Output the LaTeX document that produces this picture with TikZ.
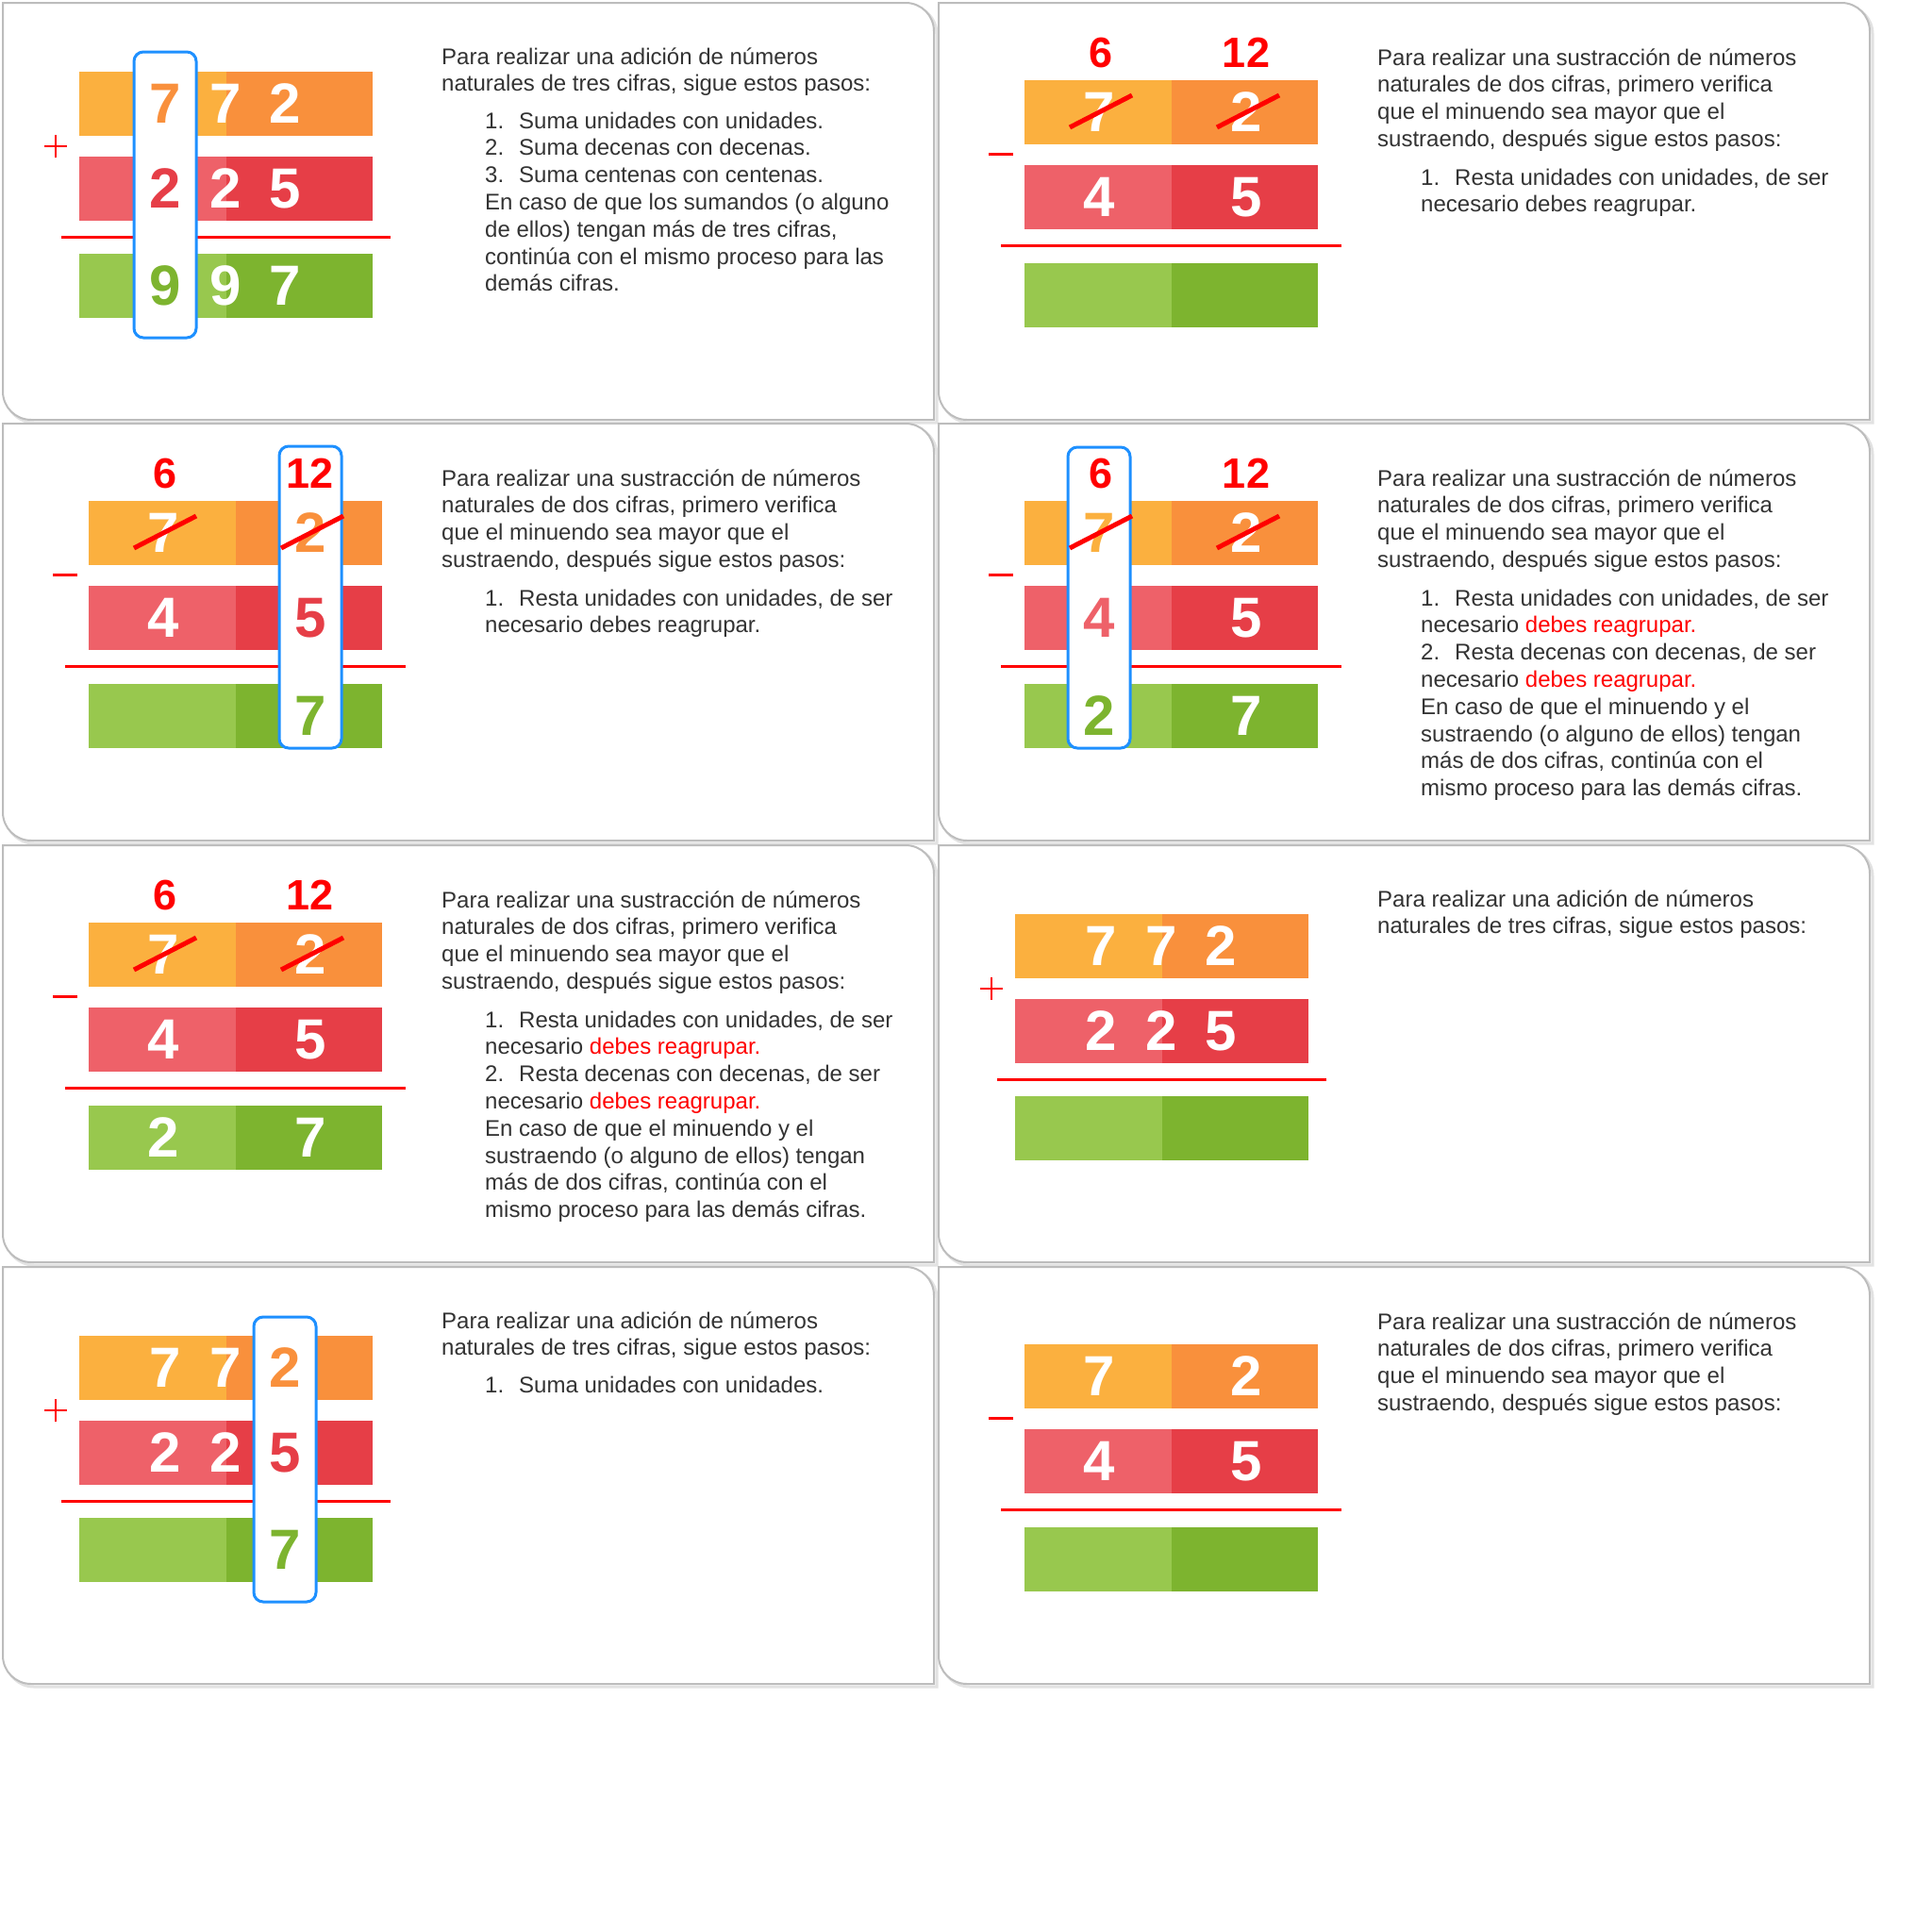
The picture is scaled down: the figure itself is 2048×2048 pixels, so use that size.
\documentclass[tikz,border=0pt]{standalone}
\usepackage{fontspec}
\setmainfont{Liberation Sans}

\definecolor{orangeL}{HTML}{FBB03F}
\definecolor{orangeD}{HTML}{F9903C}
\definecolor{redL}{HTML}{EE6169}
\definecolor{redD}{HTML}{E63E47}
\definecolor{greenL}{HTML}{98C84E}
\definecolor{greenD}{HTML}{7DB42F}
\definecolor{signred}{HTML}{FF0000}
\definecolor{boxblue}{HTML}{1E90FF}
\definecolor{textgray}{HTML}{333333}
\definecolor{framegray}{HTML}{BDBDBD}
\definecolor{shadegray}{HTML}{E2E2E2}

% card outline: rounded top-right and bottom-left corners, light shadow
\newcommand\cardoutline{(0,0) -- (957,0) .. controls (973.57,0) and (987,13.43) .. (987,30)
  -- (987,442) -- (30,442) .. controls (13.43,442) and (0,428.57) .. (0,412) -- cycle}
\newcommand\panelframe{%
  \draw[shade,shift={(3,3)}] \cardoutline;
  \draw[frame] \cardoutline;}

% three-digit addition layout
\newcommand\addgrid{%
  \fill[orangeL] (81,73) rectangle (236.5,141);
  \fill[orangeD] (236.5,73) rectangle (392,141);
  \fill[redL] (81,163) rectangle (236.5,231);
  \fill[redD] (236.5,163) rectangle (392,231);
  \fill[greenL] (81,266) rectangle (236.5,334);
  \fill[greenD] (236.5,266) rectangle (392,334);
  \draw[sumrule] (62,248) -- (411,248);
  \draw[sign] (44,152) -- (68,152) (56,140) -- (56,164);}

% two-digit subtraction layout
\newcommand\subgrid{%
  \fill[orangeL] (91,82) rectangle (246.5,150);
  \fill[orangeD] (246.5,82) rectangle (402,150);
  \fill[redL] (91,172) rectangle (246.5,240);
  \fill[redD] (246.5,172) rectangle (402,240);
  \fill[greenL] (91,276) rectangle (246.5,344);
  \fill[greenD] (246.5,276) rectangle (402,344);
  \draw[sumrule] (66,257) -- (427,257);
  \draw[sign,line width=3pt] (53,160) -- (79,160);}

% borrowed values above the minuend and the crossed-out digits
\newcommand\borrow[1]{%
  \node[sup] (#1-b1) at (172,53) {6};
  \node[sup] (#1-b2) at (326,53) {12};}
\newcommand\crossout{%
  \draw[strike] (139,132) -- (205,98);
  \draw[strike] (295,132) -- (361,98);}

\newcommand\addintro[1]{%
  \node[txt] (#1-t1) at (465,65) {Para realizar una adición de números};
  \node[txt] (#1-t2) at (465,93.8) {naturales de tres cifras, sigue estos pasos:};}
\newcommand\subintro[1]{%
  \node[txt] (#1-t1) at (465,66) {Para realizar una sustracción de números};
  \node[txt] (#1-t2) at (465,94.8) {naturales de dos cifras, primero verifica};
  \node[txt] (#1-t3) at (465,123.6) {que el minuendo sea mayor que el};
  \node[txt] (#1-t4) at (465,152.4) {sustraendo, después sigue estos pasos:};}
\newcommand\numlabel[1]{\makebox[36pt][l]{#1}}
\newcommand\hot[1]{{\color{signred}#1}}
\newcommand\substeps[1]{%
  \node[txt] (#1-s1) at (511,193) {\numlabel{1.}Resta unidades con unidades, de ser};
  \node[txt] (#1-s2) at (511,221.8) {necesario \hot{debes reagrupar.}};
  \node[txt] (#1-s3) at (511,250.6) {\numlabel{2.}Resta decenas con decenas, de ser};
  \node[txt] (#1-s4) at (511,279.4) {necesario \hot{debes reagrupar.}};
  \node[txt] (#1-s5) at (511,308.2) {En caso de que el minuendo y el};
  \node[txt] (#1-s6) at (511,337) {sustraendo (o alguno de ellos) tengan};
  \node[txt] (#1-s7) at (511,365.8) {más de dos cifras, continúa con el};
  \node[txt] (#1-s8) at (511,394.6) {mismo proceso para las demás cifras.};}

\begin{document}
\begin{tikzpicture}[x=1pt,y=-1pt,
  frame/.style={fill=white,draw=framegray,line width=2pt},
  shade/.style={draw=shadegray,line width=3pt},
  digit/.style={inner sep=0pt,text=white,font=\fontsize{60}{60}\selectfont\bfseries},
  sup/.style={inner sep=0pt,text=signred,font=\fontsize{45}{45}\selectfont\bfseries},
  txt/.style={inner sep=0pt,anchor=base west,text=textgray,font=\fontsize{24}{29}\selectfont},
  sumrule/.style={draw=signred,line width=3pt},
  sign/.style={draw=signred,line width=2pt},
  strike/.style={draw=signred,line width=5pt,line cap=butt},
  colbox/.style={draw=boxblue,line width=3pt,fill=white,rounded corners=10pt}]

\useasboundingbox (0,0) rectangle (2048,2048);
\fill[white] (0,0) rectangle (2048,2048);

% ---------- card 1: 772 + 225 = 997, hundreds column marked
\begin{scope}[shift={(3,3)}]
  \panelframe
  \addgrid
  \node[digit] (a1-o2) at (236,107) {7};
  \node[digit] (a1-o3) at (299,107) {2};
  \node[digit] (a1-r2) at (236,197) {2};
  \node[digit] (a1-r3) at (299,197) {5};
  \node[digit] (a1-g2) at (236,300) {9};
  \node[digit] (a1-g3) at (299,300) {7};
  \draw[colbox] (139,52) rectangle (205,355);
  \node[digit,text=orangeD] (a1-o1) at (172,107) {7};
  \node[digit,text=redD] (a1-r1) at (172,197) {2};
  \node[digit,text=greenD] (a1-g1) at (172,300) {9};
  \addintro{a1}
  \node[txt] (a1-s1) at (511,133) {\numlabel{1.}Suma unidades con unidades.};
  \node[txt] (a1-s2) at (511,161.8) {\numlabel{2.}Suma decenas con decenas.};
  \node[txt] (a1-s3) at (511,190.6) {\numlabel{3.}Suma centenas con centenas.};
  \node[txt] (a1-s4) at (511,219.4) {En caso de que los sumandos (o alguno};
  \node[txt] (a1-s5) at (511,248.2) {de ellos) tengan más de tres cifras,};
  \node[txt] (a1-s6) at (511,277) {continúa con el mismo proceso para las};
  \node[txt] (a1-s7) at (511,305.8) {demás cifras.};
\end{scope}

% ---------- card 2: 72 - 45 with regrouping
\begin{scope}[shift={(995,3)}]
  \panelframe
  \subgrid
  \borrow{b2}
  \node[digit] (b2-o1) at (170,116) {7};
  \node[digit] (b2-o2) at (326,116) {2};
  \node[digit] (b2-r1) at (170,206) {4};
  \node[digit] (b2-r2) at (326,206) {5};
  \crossout
  \subintro{b2}
  \node[txt] (b2-s1) at (511,193) {\numlabel{1.}Resta unidades con unidades, de ser};
  \node[txt] (b2-s2) at (511,221.8) {necesario debes reagrupar.};
\end{scope}

% ---------- card 3: units column marked
\begin{scope}[shift={(3,449)}]
  \panelframe
  \subgrid
  \node[digit] (b3-o1) at (170,116) {7};
  \node[digit] (b3-r1) at (170,206) {4};
  \draw[colbox] (293,24) rectangle (359,344);
  \node[digit,text=orangeD] (b3-o2) at (326,116) {2};
  \node[digit,text=redD] (b3-r2) at (326,206) {5};
  \node[digit,text=greenD] (b3-g2) at (326,310) {7};
  \borrow{b3}
  \crossout
  \subintro{b3}
  \node[txt] (b3-s1) at (511,193) {\numlabel{1.}Resta unidades con unidades, de ser};
  \node[txt] (b3-s2) at (511,221.8) {necesario debes reagrupar.};
\end{scope}

% ---------- card 4: tens column marked
\begin{scope}[shift={(995,449)}]
  \panelframe
  \subgrid
  \node[digit] (b4-o2) at (326,116) {2};
  \node[digit] (b4-r2) at (326,206) {5};
  \node[digit] (b4-g2) at (326,310) {7};
  \draw[colbox] (137,25) rectangle (203,344);
  \node[digit,text=orangeL] (b4-o1) at (170,116) {7};
  \node[digit,text=redL] (b4-r1) at (170,206) {4};
  \node[digit,text=greenD] (b4-g1) at (170,310) {2};
  \borrow{b4}
  \crossout
  \subintro{b4}
  \substeps{b4}
\end{scope}

% ---------- card 5: finished subtraction 72 - 45 = 27
\begin{scope}[shift={(3,896)}]
  \panelframe
  \subgrid
  \borrow{b5}
  \node[digit] (b5-o1) at (170,116) {7};
  \node[digit] (b5-o2) at (326,116) {2};
  \node[digit] (b5-r1) at (170,206) {4};
  \node[digit] (b5-r2) at (326,206) {5};
  \node[digit] (b5-g1) at (170,310) {2};
  \node[digit] (b5-g2) at (326,310) {7};
  \crossout
  \subintro{b5}
  \substeps{b5}
\end{scope}

% ---------- card 6: addition set up
\begin{scope}[shift={(995,896)}]
  \panelframe
  \addgrid
  \node[digit] (a6-o1) at (172,107) {7};
  \node[digit] (a6-o2) at (236,107) {7};
  \node[digit] (a6-o3) at (299,107) {2};
  \node[digit] (a6-r1) at (172,197) {2};
  \node[digit] (a6-r2) at (236,197) {2};
  \node[digit] (a6-r3) at (299,197) {5};
  \addintro{a6}
\end{scope}

% ---------- card 7: units column of the addition
\begin{scope}[shift={(3,1343)}]
  \panelframe
  \addgrid
  \node[digit] (a7-o1) at (172,107) {7};
  \node[digit] (a7-o2) at (236,107) {7};
  \node[digit] (a7-r1) at (172,197) {2};
  \node[digit] (a7-r2) at (236,197) {2};
  \draw[colbox] (266,53) rectangle (332,355);
  \node[digit,text=orangeD] (a7-o3) at (299,107) {2};
  \node[digit,text=redD] (a7-r3) at (299,197) {5};
  \node[digit,text=greenD] (a7-g3) at (299,300) {7};
  \addintro{a7}
  \node[txt] (a7-s1) at (511,133) {\numlabel{1.}Suma unidades con unidades.};
\end{scope}

% ---------- card 8: subtraction set up
\begin{scope}[shift={(995,1343)}]
  \panelframe
  \subgrid
  \node[digit] (b8-o1) at (170,116) {7};
  \node[digit] (b8-o2) at (326,116) {2};
  \node[digit] (b8-r1) at (170,206) {4};
  \node[digit] (b8-r2) at (326,206) {5};
  \subintro{b8}
\end{scope}

\end{tikzpicture}
\end{document}
